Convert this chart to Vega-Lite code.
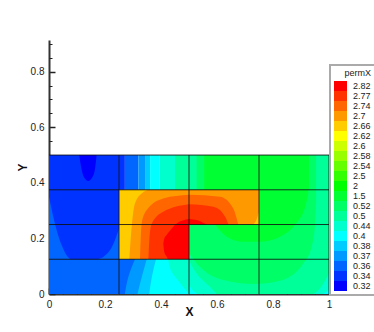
{
"$schema":"https://vega.github.io/schema/vega-lite/v6.json",
"width":280,"height":254,"autosize":"none",
"padding":{"left":49,"top":40,"right":45,"bottom":38},
"background":"white",
"config":{"view":{"stroke":null},"font":"Liberation Sans","legend":{"strokeWidth":2}},
"datasets":{
"v":[
{"r":"L0","l":"0.36","x":0,"y":0,"y2":0.5},{"r":"L0","l":"0.36","x":0.25,"y":0,"y2":0.5},
{"r":"L1","l":"0.34","x":0,"y":0.35,"y2":0.5},{"r":"L1","l":"0.34","x":0.021,"y":0.254,"y2":0.5},{"r":"L1","l":"0.34","x":0.045,"y":0.176,"y2":0.5},{"r":"L1","l":"0.34","x":0.081,"y":0.125,"y2":0.5},{"r":"L1","l":"0.34","x":0.17,"y":0.125,"y2":0.5},{"r":"L1","l":"0.34","x":0.218,"y":0.158,"y2":0.5},{"r":"L1","l":"0.34","x":0.25,"y":0.235,"y2":0.5},
{"r":"L2","l":"0.32","x":0.108,"y":0.5,"y2":0.5},{"r":"L2","l":"0.32","x":0.115,"y":0.455,"y2":0.5},{"r":"L2","l":"0.32","x":0.125,"y":0.42,"y2":0.5},{"r":"L2","l":"0.32","x":0.14,"y":0.407,"y2":0.5},{"r":"L2","l":"0.32","x":0.155,"y":0.42,"y2":0.5},{"r":"L2","l":"0.32","x":0.165,"y":0.455,"y2":0.5},{"r":"L2","l":"0.32","x":0.17,"y":0.5,"y2":0.5},
{"r":"R0","l":"0.5","x":0.5,"y":0,"y2":0.5},{"r":"R0","l":"0.5","x":1,"y":0,"y2":0.5},
{"r":"C1","l":"0.44","x":0.5,"y":0,"y2":0.12},{"r":"C1","l":"0.44","x":0.527,"y":0,"y2":0.075},{"r":"C1","l":"0.44","x":0.575,"y":0,"y2":0.026},{"r":"C1","l":"0.44","x":0.599,"y":0,"y2":0},
{"r":"C2","l":"0.4","x":0.5,"y":0,"y2":0.032},{"r":"C2","l":"0.4","x":0.515,"y":0,"y2":0.012},{"r":"C2","l":"0.4","x":0.53,"y":0,"y2":0},
{"r":"C3","l":"0.44","x":0.944,"y":0,"y2":0},{"r":"C3","l":"0.44","x":0.975,"y":0,"y2":0.03},{"r":"C3","l":"0.44","x":1,"y":0,"y2":0.075},
{"r":"C4","l":"0.4","x":0.98,"y":0,"y2":0},{"r":"C4","l":"0.4","x":1,"y":0,"y2":0.015},
{"r":"U1","l":"0.52","x":0.5,"y":0.146,"y2":0.375},{"r":"U1","l":"0.52","x":0.539,"y":0.098,"y2":0.375},{"r":"U1","l":"0.52","x":0.623,"y":0.05,"y2":0.375},{"r":"U1","l":"0.52","x":0.73,"y":0.036,"y2":0.375},{"r":"U1","l":"0.52","x":0.825,"y":0.048,"y2":0.375},{"r":"U1","l":"0.52","x":0.908,"y":0.11,"y2":0.375},{"r":"U1","l":"0.52","x":0.938,"y":0.17,"y2":0.375},{"r":"U1","l":"0.52","x":0.95,"y":0.25,"y2":0.375},{"r":"U1","l":"0.52","x":0.954,"y":0.33,"y2":0.375},
{"r":"U2","l":"1.5","x":0.593,"y":0.25,"y2":0.375},{"r":"U2","l":"1.5","x":0.635,"y":0.206,"y2":0.375},{"r":"U2","l":"1.5","x":0.694,"y":0.188,"y2":0.375},{"r":"U2","l":"1.5","x":0.754,"y":0.188,"y2":0.375},{"r":"U2","l":"1.5","x":0.825,"y":0.206,"y2":0.375},{"r":"U2","l":"1.5","x":0.879,"y":0.25,"y2":0.375},{"r":"U2","l":"1.5","x":0.915,"y":0.314,"y2":0.375},{"r":"U2","l":"1.5","x":0.926,"y":0.36,"y2":0.375},
{"r":"M0","l":"2.66","x":0.25,"y":0.125,"y2":0.375},{"r":"M0","l":"2.66","x":0.5,"y":0.125,"y2":0.375},
{"r":"M1","l":"2.7","x":0.287,"y":0.125,"y2":0.125},{"r":"M1","l":"2.7","x":0.296,"y":0.125,"y2":0.25},{"r":"M1","l":"2.7","x":0.307,"y":0.125,"y2":0.326},{"r":"M1","l":"2.7","x":0.331,"y":0.125,"y2":0.362},{"r":"M1","l":"2.7","x":0.36,"y":0.125,"y2":0.375},{"r":"M1","l":"2.7","x":0.5,"y":0.125,"y2":0.375},
{"r":"M2","l":"2.7","x":0.5,"y":0.25,"y2":0.375},{"r":"M2","l":"2.7","x":0.75,"y":0.25,"y2":0.375},
{"r":"M3","l":"2.66","x":0.73,"y":0.25,"y2":0.25},{"r":"M3","l":"2.66","x":0.74,"y":0.25,"y2":0.265},{"r":"M3","l":"2.66","x":0.75,"y":0.25,"y2":0.296},
{"r":"N1","l":"2.74","x":0.325,"y":0.125,"y2":0.125},{"r":"N1","l":"2.74","x":0.331,"y":0.125,"y2":0.254},{"r":"N1","l":"2.74","x":0.349,"y":0.125,"y2":0.302},{"r":"N1","l":"2.74","x":0.408,"y":0.125,"y2":0.344},{"r":"N1","l":"2.74","x":0.5,"y":0.125,"y2":0.357},
{"r":"N2","l":"2.74","x":0.5,"y":0.25,"y2":0.357},{"r":"N2","l":"2.74","x":0.611,"y":0.25,"y2":0.35},{"r":"N2","l":"2.74","x":0.658,"y":0.25,"y2":0.308},{"r":"N2","l":"2.74","x":0.676,"y":0.25,"y2":0.25},
{"r":"P1","l":"2.77","x":0.355,"y":0.125,"y2":0.125},{"r":"P1","l":"2.77","x":0.358,"y":0.125,"y2":0.19},{"r":"P1","l":"2.77","x":0.367,"y":0.125,"y2":0.254},{"r":"P1","l":"2.77","x":0.408,"y":0.125,"y2":0.296},{"r":"P1","l":"2.77","x":0.5,"y":0.125,"y2":0.323},
{"r":"P2","l":"2.77","x":0.5,"y":0.25,"y2":0.323},{"r":"P2","l":"2.77","x":0.587,"y":0.25,"y2":0.314},{"r":"P2","l":"2.77","x":0.629,"y":0.25,"y2":0.278},{"r":"P2","l":"2.77","x":0.641,"y":0.25,"y2":0.25},
{"r":"Q1","l":"2.82","x":0.408,"y":0.182,"y2":0.182},{"r":"Q1","l":"2.82","x":0.412,"y":0.15,"y2":0.2},{"r":"Q1","l":"2.82","x":0.42,"y":0.135,"y2":0.212},{"r":"Q1","l":"2.82","x":0.426,"y":0.125,"y2":0.22},{"r":"Q1","l":"2.82","x":0.456,"y":0.125,"y2":0.254},{"r":"Q1","l":"2.82","x":0.5,"y":0.125,"y2":0.27},
{"r":"Q2","l":"2.82","x":0.5,"y":0.25,"y2":0.27},{"r":"Q2","l":"2.82","x":0.527,"y":0.25,"y2":0.266},{"r":"Q2","l":"2.82","x":0.563,"y":0.25,"y2":0.25}
],
"h":[
{"r":"B0","l":"0.44","y":0,"x":0.25,"x2":0.5},{"r":"B0","l":"0.44","y":0.125,"x":0.25,"x2":0.5},
{"r":"B1","l":"0.4","y":0,"x":0.25,"x2":0.5},{"r":"B1","l":"0.4","y":0.04,"x":0.25,"x2":0.468},{"r":"B1","l":"0.4","y":0.08,"x":0.25,"x2":0.438},{"r":"B1","l":"0.4","y":0.125,"x":0.25,"x2":0.426},
{"r":"B2","l":"0.38","y":0,"x":0.25,"x2":0.358},{"r":"B2","l":"0.38","y":0.06,"x":0.25,"x2":0.367},{"r":"B2","l":"0.38","y":0.125,"x":0.25,"x2":0.382},
{"r":"B3","l":"0.37","y":0,"x":0.25,"x2":0.316},{"r":"B3","l":"0.37","y":0.06,"x":0.25,"x2":0.331},{"r":"B3","l":"0.37","y":0.125,"x":0.25,"x2":0.349},
{"r":"B4","l":"0.36","y":0,"x":0.25,"x2":0.271},{"r":"B4","l":"0.36","y":0.06,"x":0.25,"x2":0.283},{"r":"B4","l":"0.36","y":0.125,"x":0.25,"x2":0.307},
{"r":"T1","l":"0.34","y":0.375,"x":0.25,"x2":0.271},{"r":"T1","l":"0.34","y":0.5,"x":0.25,"x2":0.271},
{"r":"T2","l":"0.36","y":0.375,"x":0.271,"x2":0.319},{"r":"T2","l":"0.36","y":0.5,"x":0.271,"x2":0.319},
{"r":"T3","l":"0.37","y":0.375,"x":0.319,"x2":0.343},{"r":"T3","l":"0.37","y":0.5,"x":0.319,"x2":0.343},
{"r":"T4","l":"0.38","y":0.375,"x":0.343,"x2":0.361},{"r":"T4","l":"0.38","y":0.5,"x":0.343,"x2":0.361},
{"r":"T5","l":"0.4","y":0.375,"x":0.361,"x2":0.394},{"r":"T5","l":"0.4","y":0.5,"x":0.361,"x2":0.394},
{"r":"T6","l":"0.44","y":0.375,"x":0.394,"x2":0.45},{"r":"T6","l":"0.44","y":0.5,"x":0.394,"x2":0.45},
{"r":"T7","l":"0.5","y":0.375,"x":0.45,"x2":0.527},{"r":"T7","l":"0.5","y":0.5,"x":0.45,"x2":0.527},
{"r":"T8","l":"0.52","y":0.375,"x":0.527,"x2":0.554},{"r":"T8","l":"0.52","y":0.5,"x":0.527,"x2":0.554},
{"r":"T9","l":"1.5","y":0.375,"x":0.554,"x2":0.93},{"r":"T9","l":"1.5","y":0.5,"x":0.554,"x2":0.93},
{"r":"T10","l":"0.52","y":0.375,"x":0.93,"x2":0.954},{"r":"T10","l":"0.52","y":0.5,"x":0.93,"x2":0.954}
],
"g":[
{"x":0.25,"x2":0.25,"y":0,"y2":0.5},{"x":0.5,"x2":0.5,"y":0,"y2":0.5},{"x":0.75,"x2":0.75,"y":0,"y2":0.5},{"x":1,"x2":1,"y":0,"y2":0.5},
{"x":0,"x2":1,"y":0.125,"y2":0.125},{"x":0,"x2":1,"y":0.25,"y2":0.25},{"x":0,"x2":1,"y":0.375,"y2":0.375},{"x":0,"x2":1,"y":0.5,"y2":0.5}
]
},
"layer":[
{"data":{"name":"v"},"mark":{"type":"area","interpolate":"monotone","orient":"vertical","clip":true},
"encoding":{
"x":{"field":"x","type":"quantitative","scale":{"domain":[0,1],"nice":false},"axis":null},
"y":{"field":"y","type":"quantitative","stack":null,"scale":{"domain":[0,0.914],"nice":false},"axis":null},
"y2":{"field":"y2"},
"detail":{"field":"r"},
"color":{"field":"l","type":"nominal","scale":{"domain":["2.82","2.77","2.74","2.7","2.66","2.62","2.6","2.58","2.54","2.5","2","1.5","0.52","0.5","0.44","0.4","0.38","0.37","0.36","0.34","0.32"],"range":["#ff0000","#ff3300","#ff6600","#ff9900","#ffcc00","#ffff00","#ccff00","#99ff00","#66ff00","#33ff00","#00ff00","#00ff33","#00ff66","#00ff99","#00ffcc","#00ffff","#00ccff","#0099ff","#0066ff","#0033ff","#0000ff"]},
"legend":{"title":"permX","orient":"none","legendX":281,"legendY":25,"symbolType":"M-1,-1H1.6V1H-1Z","symbolSize":100,"symbolStrokeWidth":0,"symbolOpacity":1,"rowPadding":0,"labelFontSize":9,"labelColor":"#222","titleFontSize":9,"titleFontWeight":"normal","titleColor":"#222","titleAnchor":"end","titlePadding":3,"padding":4,"fillColor":"white","strokeColor":"#aaa","labelOffset":9}}
}},
{"data":{"name":"h"},"mark":{"type":"area","interpolate":"monotone","orient":"horizontal"},
"encoding":{
"y":{"field":"y","type":"quantitative","scale":{"domain":[0,0.914],"nice":false},"axis":null},
"x":{"field":"x","type":"quantitative","stack":null,"scale":{"domain":[0,1],"nice":false},"axis":null},
"x2":{"field":"x2"},
"detail":{"field":"r"},
"color":{"field":"l","type":"nominal"}
}},
{"data":{"name":"g"},"mark":{"type":"rule","color":"#111","strokeWidth":1,"opacity":0.85},
"encoding":{
"x":{"field":"x","type":"quantitative","axis":null},"x2":{"field":"x2"},
"y":{"field":"y","type":"quantitative","axis":null},"y2":{"field":"y2"}
}},
{"data":{"values":[{"a":0}]},"mark":{"type":"point","opacity":0},
"encoding":{
"x":{"field":"a","type":"quantitative","axis":{"orient":"bottom","title":"X","titleFontSize":12,"titleFontWeight":"bold","titleColor":"#111","titlePadding":-3,"values":[0,0.2,0.4,0.6,0.8,1],"tickSize":-6,"tickWidth":1.5,"tickColor":"#222","domainColor":"#333","domainWidth":2,"labelPadding":11,"labelFontSize":10,"labelColor":"#222","labelFlush":false,"labelExpr":"datum.value","grid":false}},
"y":{"field":"a","type":"quantitative","axis":{"orient":"left","title":"Y","titleFontSize":12,"titleFontWeight":"bold","titleColor":"#111","titlePadding":1,"values":[0,0.2,0.4,0.6,0.8],"tickSize":-6,"tickWidth":1.5,"tickColor":"#222","domainColor":"#333","domainWidth":2,"labelPadding":11,"labelFontSize":10,"labelColor":"#222","labelExpr":"datum.value","grid":false}}
}},
{"data":{"values":[{"a":0}]},"mark":{"type":"point","opacity":0},
"encoding":{
"x":{"field":"a","type":"quantitative","axis":{"orient":"bottom","title":null,"values":[0.05,0.1,0.15,0.25,0.3,0.35,0.45,0.5,0.55,0.65,0.7,0.75,0.85,0.9,0.95],"tickSize":-3,"tickWidth":1,"tickColor":"#222","domain":false,"labels":false,"grid":false}},
"y":{"field":"a","type":"quantitative","axis":{"orient":"left","title":null,"values":[0.05,0.1,0.15,0.25,0.3,0.35,0.45,0.5,0.55,0.65,0.7,0.75,0.85,0.9],"tickSize":-3,"tickWidth":1,"tickColor":"#222","domain":false,"labels":false,"grid":false}}
}}
],
"resolve":{"axis":{"x":"independent","y":"independent"}}
}
